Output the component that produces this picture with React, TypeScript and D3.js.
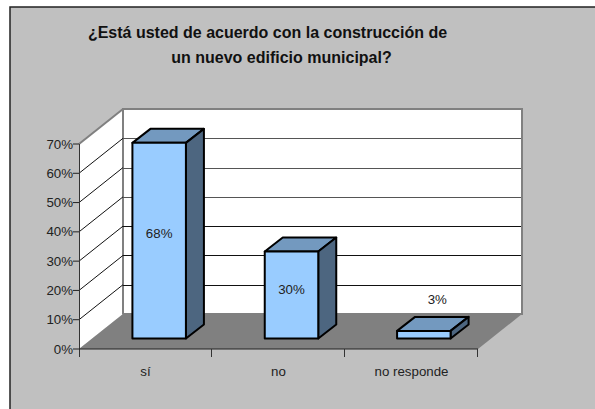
import React from "react";
import * as d3 from "d3";

const categories = ["sí", "no", "no responde"];
const barValues = [66.8, 29.7, 2.6];
const barLabels = ["68%", "30%", "3%"];
const yTicks = [0, 10, 20, 30, 40, 50, 60, 70];
const titleLines = ["¿Está usted de acuerdo con la construcción de", "un nuevo edificio municipal?"];

const FONT = "'Liberation Sans', Arial, sans-serif";
const x0 = 79, x1 = 478, yBase = 349, yTop = 144;
const dx = 44, dy = -35; // full depth of the floor
const bdx = 18, bdy = -14; // depth of a bar
const barFloorY = 338.5;
const barW = 53.5;
const labelSize = 13.3;

const y = d3.scaleLinear().domain([0, 70]).range([yBase, yTop]);
const x = d3.scaleBand<string>().domain(categories).range([x0, x1]);
// bars stand further back on the floor, so they sit on a shifted band
const xBar = d3.scaleBand<string>().domain(categories).range([93, 490]);
const poly = (p: [number, number][]) => p.map((q) => q.join(",")).join(" ");

export default function App() {
  const bw = x.bandwidth();
  return (
    <svg width={595} height={409} style={{ position: "absolute", left: 0, top: 0, background: "#fff" }} fontFamily={FONT}>
      <rect x={10} y={7} width={590} height={410} fill="#C0C0C0" stroke="#222" strokeWidth={1.5} />
      {titleLines.map((t, i) => (
        <text key={t} x={i === 0 ? 267.5 : 281.5} y={i === 0 ? 38 : 63} textAnchor="middle" fontWeight="bold" fontSize={16} fill="#111">{t}</text>
      ))}
      {/* back wall */}
      <rect x={x0 + dx} y={yTop + dy} width={x1 - x0} height={yBase - yTop} fill="#fff" stroke="#808080" strokeWidth={2} />
      {/* side wall */}
      <polygon points={poly([[x0, yBase], [x0 + dx, yBase + dy], [x0 + dx, yTop + dy], [x0, yTop]])} fill="#fff" />
      <line x1={x0 + dx} x2={x0 + dx} y1={yTop + dy} y2={yBase + dy} stroke="#808080" strokeWidth={2} />
      <line x1={x0} x2={x0 + dx} y1={yTop} y2={yTop + dy} stroke="#808080" strokeWidth={2} />
      {/* gridlines */}
      {yTicks.filter((t) => t > 0 && t < 70).map((t) => (
        <g key={t} stroke={t >= 40 ? "#555" : "#111"} strokeWidth={1}>
          <line x1={x0 + dx} x2={x1 + dx} y1={Math.round(y(t) + dy) + 0.5} y2={Math.round(y(t) + dy) + 0.5} />
          <line x1={x0} x2={x0 + dx} y1={y(t)} y2={y(t) + dy} stroke="#111" />
        </g>
      ))}
      {/* floor */}
      <polygon points={poly([[x0, yBase], [x1, yBase], [x1 + dx, yBase + dy], [x0 + dx, yBase + dy]])} fill="#808080" />
      <line x1={x1 + dx} x2={x1 + dx} y1={yTop + dy} y2={yBase + dy} stroke="#808080" strokeWidth={2} />
      {/* axes */}
      <line x1={x0 + 0.5} x2={x0 + 0.5} y1={yTop} y2={yBase + 8} stroke="#333" />
      <line x1={x0} x2={x1} y1={yBase} y2={yBase} stroke="#222" strokeWidth={1.2} />
      {yTicks.map((t) => (
        <g key={t}>
          <line x1={x0 - 6} x2={x0} y1={y(t)} y2={y(t)} stroke="#222" />
          <text x={73} y={y(t) + 4.5} textAnchor="end" fontSize={labelSize} fill="#222">{t}%</text>
        </g>
      ))}
      {categories.map((c) => {
        const bx = (x(c) as number) + bw - 0.5;
        return <line key={c} x1={bx} x2={bx} y1={yBase} y2={yBase + 8} stroke="#333" />;
      })}
      {categories.map((c) => (
        <text key={c} x={(x(c) as number) + bw / 2} y={376} textAnchor="middle" fontSize={labelSize} fill="#222">{c}</text>
      ))}
      {/* bars */}
      {categories.map((c, i) => {
        const left = (xBar(c) as number) + xBar.bandwidth() / 2 - barW / 2;
        const right = left + barW;
        const top = barFloorY - (yBase - y(barValues[i]));
        const stroke = { stroke: "#000", strokeWidth: 2, strokeLinejoin: "round" as const };
        return (
          <g key={c}>
            <polygon points={poly([[left, top], [right, top], [right + bdx, top + bdy], [left + bdx, top + bdy]])} fill="#7399BF" {...stroke} />
            <polygon points={poly([[right, top], [right + bdx, top + bdy], [right + bdx, barFloorY + bdy], [right, barFloorY]])} fill="#4D6680" {...stroke} />
            <rect x={left} y={top} width={barW} height={barFloorY - top} fill="#99CCFF" {...stroke} />
          </g>
        );
      })}
      {categories.map((c, i) => {
        const cx = (xBar(c) as number) + xBar.bandwidth() / 2;
        const top = barFloorY - (yBase - y(barValues[i]));
        const ly = i === 2 ? 304 : (top + barFloorY) / 2 + (i === 0 ? -3 : -1);
        return <text key={c} x={i === 2 ? cx + 13.5 : cx} y={ly} textAnchor="middle" fontSize={labelSize} fill="#222">{barLabels[i]}</text>;
      })}
    </svg>
  );
}
